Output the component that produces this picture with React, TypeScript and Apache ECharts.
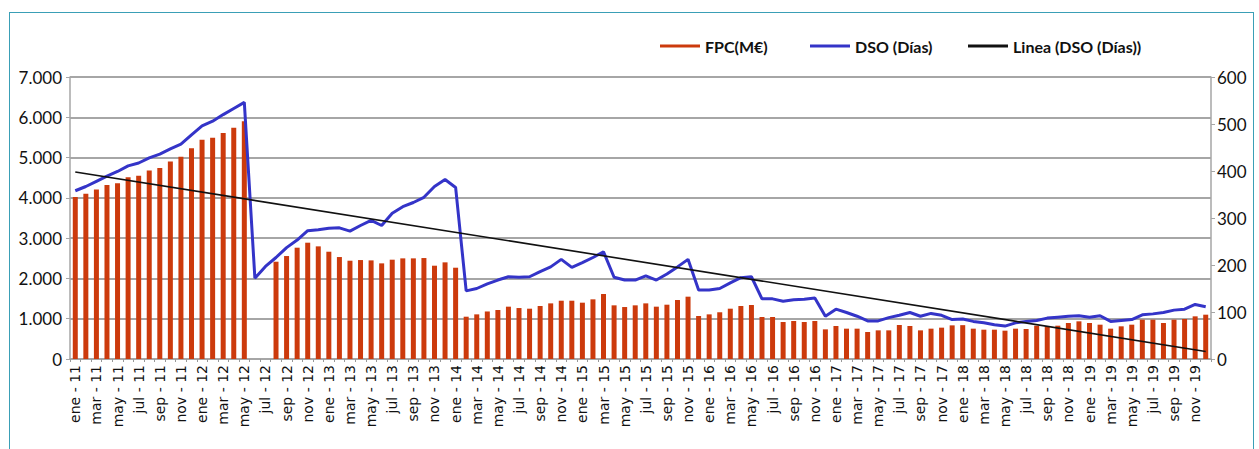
import React, { useEffect, useRef } from "react";
import * as echarts from "echarts";

const MONTHS = ["ene", "feb", "mar", "abr", "may", "jun", "jul", "ago", "sep", "oct", "nov", "dic"];
const YEARS = ["11", "12", "13", "14", "15", "16", "17", "18", "19"];
const categories = YEARS.flatMap((y) => MONTHS.map((m) => `${m} - ${y}`));

// FPC (M€), left axis
const fpc = [
  4020, 4100, 4210, 4320, 4360, 4510, 4550, 4680, 4740, 4900, 5020, 5230,
  5440, 5490, 5610, 5740, 5900, null, null, 2415, 2556, 2763, 2887, 2796,
  2663, 2531, 2440, 2456, 2448, 2374, 2465, 2498, 2498, 2506, 2316, 2399,
  2266, 1050, 1108, 1180, 1216, 1299, 1265, 1249, 1315, 1381, 1447, 1447,
  1398, 1481, 1613, 1332, 1290, 1332, 1381, 1299, 1348, 1464, 1547, 1067,
  1108, 1160, 1249, 1315, 1340, 1042, 1042, 918, 943, 918, 943, 736,
  819, 753, 753, 670, 711, 711, 844, 819, 711, 753, 778, 835,
  840, 753, 728, 728, 703, 753, 744, 827, 811, 827, 893, 935,
  893, 852, 753, 811, 852, 976, 976, 893, 976, 993, 1059, 1100,
];

// DSO (días), right axis
const dso = [
  358, 367, 378, 389, 399, 411, 417, 428, 436, 447, 457, 477,
  496, 506, 520, 533, 546, 172, 197, 216, 237, 253, 273, 275,
  278, 279, 272, 284, 295, 284, 310, 324, 333, 344, 367, 382,
  365, 145, 150, 160, 168, 175, 174, 175, 186, 196, 212, 195,
  205, 216, 228, 174, 168, 168, 177, 168, 181, 196, 212, 147,
  147, 150, 162, 173, 175, 128, 128, 123, 126, 127, 130, 91,
  106, 99, 91, 81, 81, 88, 93, 99, 91, 97, 93, 84,
  85, 80, 77, 73, 70, 77, 80, 82, 87, 89, 91, 92,
  89, 92, 80, 82, 84, 94, 96, 99, 104, 106, 116, 111,
];

// Linear trend line of DSO (end points)
const trendStart = 398;
const trendEnd = 16;

const seriesNames = ["FPC(M€)", "DSO (Días)", "Linea (DSO (Días))"];

const leftTicks = { min: 0, max: 7000, interval: 1000 };
const rightTicks = { min: 0, max: 600, interval: 100 };

const fmtThousands = (v: number) => String(v).replace(/\B(?=(\d{3})+(?!\d))/g, ".");

export default function App() {
  const ref = useRef<HTMLDivElement>(null);

  useEffect(() => {
    if (!ref.current) return;
    const chart = echarts.init(ref.current, undefined, { renderer: "svg" });
    const gridColor = "#a6a6a6";
    const legendBase = {
      top: 33,
      itemWidth: 40,
      itemHeight: 3,
      icon: "rect",
      textStyle: { fontFamily: "Lato", fontSize: 16, fontWeight: "bold", color: "#111" },
    };
    chart.setOption({
      animation: false,
      backgroundColor: "transparent",
      grid: { left: 70, right: 48, top: 77, bottom: 90, containLabel: false },
      legend: [
        { ...legendBase, left: 655, data: [seriesNames[0]] },
        { ...legendBase, left: 805, data: [seriesNames[1]] },
        { ...legendBase, left: 963, data: [seriesNames[2]] },
      ],
      xAxis: {
        type: "category",
        data: categories,
        boundaryGap: true,
        axisLine: { lineStyle: { color: gridColor, width: 1.5 } },
        axisTick: { show: true, interval: 0, length: 3, lineStyle: { color: "#999" } },
        axisLabel: {
          interval: 1,
          rotate: 90,
          margin: 6,
          fontFamily: "DejaVu Sans",
          fontSize: 14,
          color: "#111",
        },
      },
      yAxis: [
        {
          type: "value",
          ...leftTicks,
          axisLine: { show: true, lineStyle: { color: gridColor, width: 1.5 } },
          axisTick: { show: true, length: 4, lineStyle: { color: gridColor } },
          splitLine: { show: true, lineStyle: { color: gridColor, width: 2 } },
          axisLabel: {
            fontFamily: "Lato",
            fontSize: 17,
            color: "#111",
            margin: 8,
            formatter: (v: number) => fmtThousands(v),
          },
        },
        {
          type: "value",
          ...rightTicks,
          axisLine: { show: true, lineStyle: { color: gridColor, width: 1.5 } },
          axisTick: { show: true, length: 4, lineStyle: { color: gridColor } },
          splitLine: { show: false },
          axisLabel: { fontFamily: "Lato", fontSize: 17, color: "#111", margin: 6 },
        },
      ],
      series: [
        {
          name: seriesNames[0],
          type: "bar",
          yAxisIndex: 0,
          data: fpc,
          barWidth: 5,
          itemStyle: { color: "#cc3a0c" },
        },
        {
          name: seriesNames[1],
          type: "line",
          yAxisIndex: 1,
          data: dso,
          symbol: "none",
          lineStyle: { color: "#3434c8", width: 3 },
          itemStyle: { color: "#3434c8" },
          z: 3,
        },
        {
          name: seriesNames[2],
          type: "line",
          yAxisIndex: 1,
          data: [
            [categories[0], trendStart],
            [categories[categories.length - 1], trendEnd],
          ],
          symbol: "none",
          lineStyle: { color: "#111", width: 1.6 },
          itemStyle: { color: "#111" },
          z: 4,
        },
      ],
    });
    return () => chart.dispose();
  }, []);

  return (
    <div style={{ position: "fixed", left: 0, top: 0, width: 1259, height: 449, background: "#fff" }}>
      <div
        style={{
          position: "absolute",
          left: 9,
          top: 12,
          width: 1245,
          height: 460,
          border: "1.5px solid #3a9fb6",
          boxSizing: "border-box",
        }}
      />
      <div ref={ref} style={{ position: "absolute", left: 0, top: 0, width: 1259, height: 449 }} />
    </div>
  );
}
